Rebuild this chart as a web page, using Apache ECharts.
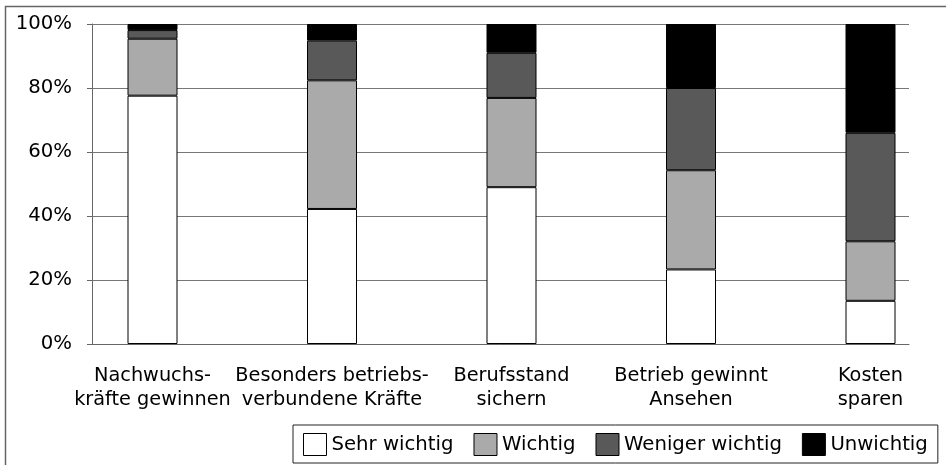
<!DOCTYPE html>
<html>
<head>
<meta charset="utf-8">
<script src="https://cdn.jsdelivr.net/npm/echarts@6/dist/echarts.min.js"></script>
<style>
  html, body { margin: 0; padding: 0; background: #fff; }
  #chart { width: 946px; height: 465px; }
</style>
</head>
<body>
<div id="chart"></div>
<script>
const categories = [
  'Nachwuchs-\nkräfte gewinnen',
  'Besonders betriebs-\nverbundene Kräfte',
  'Berufsstand\nsichern',
  'Betrieb gewinnt\nAnsehen',
  'Kosten\nsparen'
]
const sehrWichtig = [77.6, 42.2, 49.0, 23.3, 13.5]
const wichtig = [17.8, 40.2, 27.9, 31.0, 18.6]
const wenigerWichtig = [2.7, 12.4, 14.1, 25.7, 33.9]
const unwichtig = [1.9, 5.2, 9.0, 20.0, 34.0]
const yTicks = [0, 20, 40, 60, 80, 100]

const font = 'DejaVu Sans'
const chart = echarts.init(document.getElementById('chart'))

function barSeries (name, data, color) {
  return {
    name: name,
    type: 'bar',
    stack: 'total',
    xAxisIndex: 1,
    yAxisIndex: 1,
    barWidth: 50,
    data: data,
    itemStyle: { color: color, borderColor: '#000', borderWidth: 1 }
  }
}

const option = {
  animation: false,
  textStyle: { fontFamily: font },
  graphic: [{
    // outer frame (only top and left visible)
    type: 'rect',
    shape: { x: 5.5, y: 6.5, width: 1200, height: 1200 },
    style: { fill: 'none', stroke: '#666', lineWidth: 1.5 },
    silent: true
  }],
  grid: [
    // grid with axis and gridlines
    { left: 92, right: 37, top: 24, bottom: 121 },
    // grid holding the bars, points at bar centres
    { left: 152.5, right: 75.5, top: 24, bottom: 121 }
  ],
  legend: {
    left: 293,
    top: 425,
    padding: [8, 10, 7, 10],
    borderColor: '#222',
    borderWidth: 1,
    icon: 'rect',
    itemWidth: 23,
    itemHeight: 22,
    itemGap: 20,
    itemStyle: { borderColor: '#000', borderWidth: 1 },
    textStyle: { fontFamily: font, fontSize: 19.7, color: '#000' },
    data: ['Sehr wichtig', 'Wichtig', 'Weniger wichtig', 'Unwichtig']
  },
  xAxis: [{
    gridIndex: 0,
    type: 'category',
    data: categories,
    axisLine: { show: true, lineStyle: { color: '#666', width: 1 } },
    axisTick: { show: false },
    axisLabel: { show: false }
  }, {
    gridIndex: 1,
    type: 'category',
    boundaryGap: false,
    data: categories,
    axisLine: { show: false },
    axisTick: { show: false },
    axisLabel: {
      margin: 20,
      fontFamily: font,
      fontSize: 19.3,
      lineHeight: 24,
      color: '#000',
      interval: 0
    }
  }],
  yAxis: [{
    gridIndex: 0,
    type: 'value',
    min: yTicks[0],
    max: yTicks[yTicks.length - 1],
    interval: 20,
    axisLine: { show: true, lineStyle: { color: '#666', width: 1 } },
    axisTick: { show: true, length: 5, lineStyle: { color: '#666' } },
    splitLine: { show: true, lineStyle: { color: '#777', width: 1 } },
    axisLabel: {
      margin: 20,
      fontFamily: font,
      fontSize: 19.7,
      color: '#000',
      formatter: '{value}%'
    }
  }, {
    gridIndex: 1,
    type: 'value',
    min: 0,
    max: 100,
    show: false
  }],
  series: [
    barSeries('Sehr wichtig', sehrWichtig, '#ffffff'),
    barSeries('Wichtig', wichtig, '#aaaaaa'),
    barSeries('Weniger wichtig', wenigerWichtig, '#595959'),
    barSeries('Unwichtig', unwichtig, '#000000')
  ]
}

chart.setOption(option)
</script>
</body>
</html>
